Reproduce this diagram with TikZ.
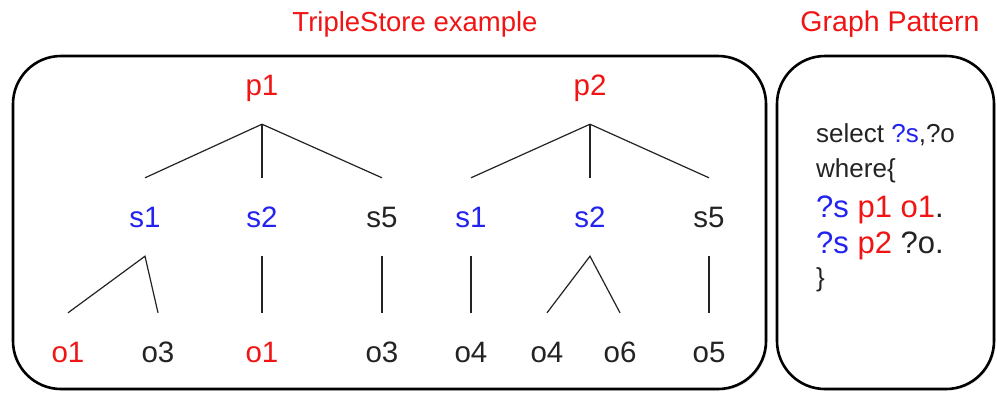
\documentclass[tikz,border=0pt]{standalone}
\usepackage{fontspec}
\setmainfont{Liberation Sans}
\usetikzlibrary{shadows}
\definecolor{tred}{RGB}{240,20,20}
\definecolor{tblue}{RGB}{35,35,240}
\definecolor{tblack}{RGB}{35,35,35}
\begin{document}
\begin{tikzpicture}[x=1pt,y=-1pt,
  frame/.style={draw=black,fill=white,line width=2.6pt,rounded corners=48pt,
    drop shadow={shadow xshift=1.5pt,shadow yshift=-1.5pt,opacity=0.25}},
  lbl/.style={font=\fontsize{29.5}{34}\selectfont,inner sep=0pt,text height=21pt,text depth=0pt,minimum height=78pt},
  redt/.style={lbl,text=tred},
  bluet/.style={lbl,text=tblue},
  blackt/.style={lbl,text=tblack},
  edge/.style={draw=tblack,line width=1.2pt},
  title/.style={font=\fontsize{27.5}{32}\selectfont,text=tred,inner sep=0pt},
  codes/.style={anchor=base west,inner sep=0pt,font=\fontsize{26}{30}\selectfont,text=tblack},
  codel/.style={anchor=base west,inner sep=0pt,font=\fontsize{31}{36}\selectfont,text=tblack}]
\useasboundingbox (0,0) rectangle (997,392);
\fill[white] (0,0) rectangle (997,392);
% frames
\draw[frame] (13,56) rectangle (766,389);
\draw[frame] (777,56) rectangle (994,389);
% titles
\node[title] (t1) at (415,24) {TripleStore example};
\node[title,font=\fontsize{28.5}{33}\selectfont] (t2) at (890,24) {Graph Pattern};
% top level
\node[redt] (p1) at (262,85) {p1};
\node[redt] (p2) at (590,85) {p2};
% subjects
\node[bluet] (s1a) at (145,217) {s1};
\node[bluet] (s2a) at (262,217) {s2};
\node[blackt] (s5a) at (382,217) {s5};
\node[bluet] (s1b) at (471,217) {s1};
\node[bluet] (s2b) at (590,217) {s2};
\node[blackt] (s5b) at (709,217) {s5};
% objects
\node[redt] (o1a) at (68,352) {o1};
\node[blackt] (o3a) at (158,352) {o3};
\node[redt] (o1b) at (262,352) {o1};
\node[blackt] (o3b) at (382,352) {o3};
\node[blackt] (o4a) at (471,352) {o4};
\node[blackt] (o4b) at (547,352) {o4};
\node[blackt] (o6) at (620,352) {o6};
\node[blackt] (o5) at (709,352) {o5};
% edges
\draw[edge] (s1a.north) -- (p1.south) -- (s5a.north);
\draw[edge] (p1.south) -- (s2a.north);
\draw[edge] (s1b.north) -- (p2.south) -- (s5b.north);
\draw[edge] (p2.south) -- (s2b.north);
\draw[edge] (o1a.north) -- (s1a.south) -- (o3a.north);
\draw[edge] (s2a.south) -- (o1b.north);
\draw[edge] (s5a.south) -- (o3b.north);
\draw[edge] (s1b.south) -- (o4a.north);
\draw[edge] (o4b.north) -- (s2b.south) -- (o6.north);
\draw[edge] (s5b.south) -- (o5.north);
% graph pattern
\node[codes] (q1) at (816,142) {select \textcolor{tblue}{?s},?o};
\node[codes] (q2) at (816,177) {where\{};
\node[codel] (q3) at (816,217) {\textcolor{tblue}{?s} \textcolor{tred}{p1 o1}.};
\node[codel] (q4) at (816,253) {\textcolor{tblue}{?s} \textcolor{tred}{p2} ?o.};
\node[codes] (q5) at (816,286) {\}};
\end{tikzpicture}
\end{document}
